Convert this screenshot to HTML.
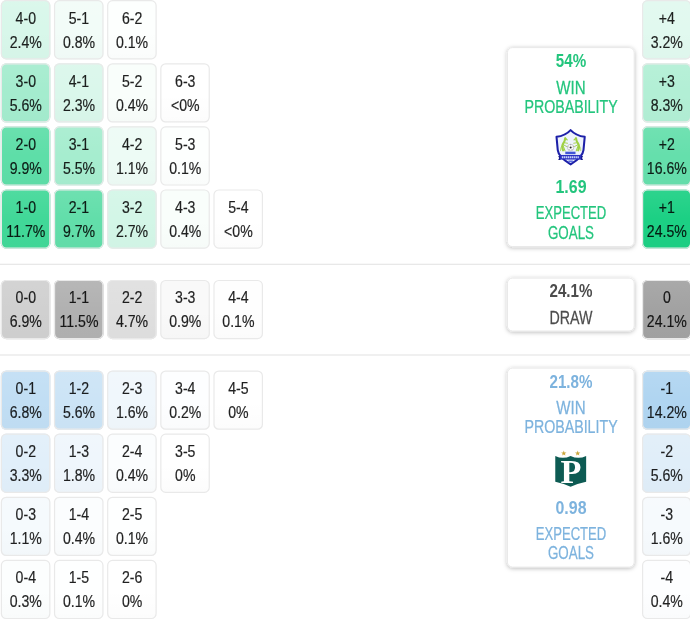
<!DOCTYPE html>
<html lang="en"><head><meta charset="utf-8"><title>Score probabilities</title>
<style>
html,body{margin:0;padding:0;background:#fff}
body{position:relative;width:690px;height:620px;overflow:hidden;font-family:"Liberation Sans",sans-serif;color:#222}
.logo{position:absolute}
.grid{position:absolute;left:0;top:0}
.t{opacity:.87}
.t text{fill:#000;stroke:#000;stroke-width:.22px}
</style></head><body>
<svg class="grid" width="690" height="620" viewBox="0 0 690 620">
<defs><filter id="sh" x="-10%" y="-10%" width="120%" height="125%"><feDropShadow dx="0" dy="1" stdDeviation="2" flood-color="#000" flood-opacity=".27"/></filter><linearGradient id="ov" x1="0" y1="0" x2="0" y2="1"><stop offset="0" stop-color="#fff" stop-opacity=".08"/><stop offset=".5" stop-color="#fff" stop-opacity="0"/><stop offset=".5" stop-color="#000" stop-opacity="0"/><stop offset="1" stop-color="#000" stop-opacity=".012"/></linearGradient></defs>
<rect x="0" y="263.700" width="690" height="1.200" fill="#e6e6e6"/><rect x="0" y="354.400" width="690" height="1.200" fill="#e6e6e6"/>
<g font-family="'Liberation Sans',sans-serif" font-size="17" text-anchor="middle" fill="#1c1c1c">
<rect x="0.8" y="0.1" width="49.6" height="59.3" rx="5.500" fill="rgb(216,247,234)"/><rect x="0.8" y="0.1" width="49.6" height="59.3" rx="5.500" fill="url(#ov)"/><rect x="1.4" y="0.7" width="48.4" height="58.1" rx="4.800" fill="none" stroke="#e9e9e9" stroke-width="1.200"/><g class="t" transform="translate(25.8 0.3) scale(0.83 1)"><text y="23.5">4-0</text><text y="47.5">2.4%</text></g>
<rect x="53.95" y="0.1" width="49.6" height="59.3" rx="5.500" fill="rgb(242,252,248)"/><rect x="53.95" y="0.1" width="49.6" height="59.3" rx="5.500" fill="url(#ov)"/><rect x="54.55" y="0.7" width="48.4" height="58.1" rx="4.800" fill="none" stroke="#e9e9e9" stroke-width="1.200"/><g class="t" transform="translate(78.95 0.3) scale(0.83 1)"><text y="23.5">5-1</text><text y="47.5">0.8%</text></g>
<rect x="107.1" y="0.1" width="49.6" height="59.3" rx="5.500" fill="rgb(253,255,254)"/><rect x="107.1" y="0.1" width="49.6" height="59.3" rx="5.500" fill="url(#ov)"/><rect x="107.7" y="0.7" width="48.4" height="58.1" rx="4.800" fill="none" stroke="#e9e9e9" stroke-width="1.200"/><g class="t" transform="translate(132.1 0.3) scale(0.83 1)"><text y="23.5">6-2</text><text y="47.5">0.1%</text></g>
<rect x="0.8" y="63.2" width="49.6" height="59.3" rx="5.500" fill="rgb(164,236,206)"/><rect x="0.8" y="63.2" width="49.6" height="59.3" rx="5.500" fill="url(#ov)"/><rect x="1.4" y="63.8" width="48.4" height="58.1" rx="4.800" fill="none" stroke="#e9e9e9" stroke-width="1.200"/><g class="t" transform="translate(25.8 63.3) scale(0.83 1)"><text y="23.5">3-0</text><text y="47.5">5.6%</text></g>
<rect x="53.95" y="63.2" width="49.6" height="59.3" rx="5.500" fill="rgb(218,247,235)"/><rect x="53.95" y="63.2" width="49.6" height="59.3" rx="5.500" fill="url(#ov)"/><rect x="54.55" y="63.8" width="48.4" height="58.1" rx="4.800" fill="none" stroke="#e9e9e9" stroke-width="1.200"/><g class="t" transform="translate(78.95 63.3) scale(0.83 1)"><text y="23.5">4-1</text><text y="47.5">2.3%</text></g>
<rect x="107.1" y="63.2" width="49.6" height="59.3" rx="5.500" fill="rgb(249,254,251)"/><rect x="107.1" y="63.2" width="49.6" height="59.3" rx="5.500" fill="url(#ov)"/><rect x="107.7" y="63.8" width="48.4" height="58.1" rx="4.800" fill="none" stroke="#e9e9e9" stroke-width="1.200"/><g class="t" transform="translate(132.1 63.3) scale(0.83 1)"><text y="23.5">5-2</text><text y="47.5">0.4%</text></g>
<rect x="160.25" y="63.2" width="49.6" height="59.3" rx="5.500" fill="rgb(255,255,255)"/><rect x="160.25" y="63.2" width="49.6" height="59.3" rx="5.500" fill="url(#ov)"/><rect x="160.85" y="63.8" width="48.4" height="58.1" rx="4.800" fill="none" stroke="#e9e9e9" stroke-width="1.200"/><g class="t" transform="translate(185.25 63.3) scale(0.83 1)"><text y="23.5">6-3</text><text y="47.5">&lt;0%</text></g>
<rect x="0.8" y="126.3" width="49.6" height="59.3" rx="5.500" fill="rgb(94,222,168)"/><rect x="0.8" y="126.3" width="49.6" height="59.3" rx="5.500" fill="url(#ov)"/><rect x="1.4" y="126.9" width="48.4" height="58.1" rx="4.800" fill="none" stroke="#e9e9e9" stroke-width="1.200"/><g class="t" transform="translate(25.8 126.3) scale(0.83 1)"><text y="23.5">2-0</text><text y="47.5">9.9%</text></g>
<rect x="53.95" y="126.3" width="49.6" height="59.3" rx="5.500" fill="rgb(166,237,207)"/><rect x="53.95" y="126.3" width="49.6" height="59.3" rx="5.500" fill="url(#ov)"/><rect x="54.55" y="126.9" width="48.4" height="58.1" rx="4.800" fill="none" stroke="#e9e9e9" stroke-width="1.200"/><g class="t" transform="translate(78.95 126.3) scale(0.83 1)"><text y="23.5">3-1</text><text y="47.5">5.5%</text></g>
<rect x="107.1" y="126.3" width="49.6" height="59.3" rx="5.500" fill="rgb(237,251,245)"/><rect x="107.1" y="126.3" width="49.6" height="59.3" rx="5.500" fill="url(#ov)"/><rect x="107.7" y="126.9" width="48.4" height="58.1" rx="4.800" fill="none" stroke="#e9e9e9" stroke-width="1.200"/><g class="t" transform="translate(132.1 126.3) scale(0.83 1)"><text y="23.5">4-2</text><text y="47.5">1.1%</text></g>
<rect x="160.25" y="126.3" width="49.6" height="59.3" rx="5.500" fill="rgb(253,255,254)"/><rect x="160.25" y="126.3" width="49.6" height="59.3" rx="5.500" fill="url(#ov)"/><rect x="160.85" y="126.9" width="48.4" height="58.1" rx="4.800" fill="none" stroke="#e9e9e9" stroke-width="1.200"/><g class="t" transform="translate(185.25 126.3) scale(0.83 1)"><text y="23.5">5-3</text><text y="47.5">0.1%</text></g>
<rect x="0.8" y="189.4" width="49.6" height="59.3" rx="5.500" fill="rgb(65,216,152)"/><rect x="0.8" y="189.4" width="49.6" height="59.3" rx="5.500" fill="url(#ov)"/><rect x="1.4" y="190" width="48.4" height="58.1" rx="4.800" fill="none" stroke="#e9e9e9" stroke-width="1.200"/><g class="t" transform="translate(25.8 189.6) scale(0.83 1)"><text y="23.5">1-0</text><text y="47.5">11.7%</text></g>
<rect x="53.95" y="189.4" width="49.6" height="59.3" rx="5.500" fill="rgb(98,222,170)"/><rect x="53.95" y="189.4" width="49.6" height="59.3" rx="5.500" fill="url(#ov)"/><rect x="54.55" y="190" width="48.4" height="58.1" rx="4.800" fill="none" stroke="#e9e9e9" stroke-width="1.200"/><g class="t" transform="translate(78.95 189.6) scale(0.83 1)"><text y="23.5">2-1</text><text y="47.5">9.7%</text></g>
<rect x="107.1" y="189.4" width="49.6" height="59.3" rx="5.500" fill="rgb(211,246,231)"/><rect x="107.1" y="189.4" width="49.6" height="59.3" rx="5.500" fill="url(#ov)"/><rect x="107.7" y="190" width="48.4" height="58.1" rx="4.800" fill="none" stroke="#e9e9e9" stroke-width="1.200"/><g class="t" transform="translate(132.1 189.6) scale(0.83 1)"><text y="23.5">3-2</text><text y="47.5">2.7%</text></g>
<rect x="160.25" y="189.4" width="49.6" height="59.3" rx="5.500" fill="rgb(249,254,251)"/><rect x="160.25" y="189.4" width="49.6" height="59.3" rx="5.500" fill="url(#ov)"/><rect x="160.85" y="190" width="48.4" height="58.1" rx="4.800" fill="none" stroke="#e9e9e9" stroke-width="1.200"/><g class="t" transform="translate(185.25 189.6) scale(0.83 1)"><text y="23.5">4-3</text><text y="47.5">0.4%</text></g>
<rect x="213.4" y="189.4" width="49.6" height="59.3" rx="5.500" fill="rgb(255,255,255)"/><rect x="213.4" y="189.4" width="49.6" height="59.3" rx="5.500" fill="url(#ov)"/><rect x="214" y="190" width="48.4" height="58.1" rx="4.800" fill="none" stroke="#e9e9e9" stroke-width="1.200"/><g class="t" transform="translate(238.4 189.6) scale(0.83 1)"><text y="23.5">5-4</text><text y="47.5">&lt;0%</text></g>
<rect x="0.8" y="279.9" width="49.6" height="59.3" rx="5.500" fill="rgb(208,208,208)"/><rect x="0.8" y="279.9" width="49.6" height="59.3" rx="5.500" fill="url(#ov)"/><rect x="1.4" y="280.5" width="48.4" height="58.1" rx="4.800" fill="none" stroke="#e9e9e9" stroke-width="1.200"/><g class="t" transform="translate(25.8 280) scale(0.83 1)"><text y="23.5">0-0</text><text y="47.5">6.9%</text></g>
<rect x="53.95" y="279.9" width="49.6" height="59.3" rx="5.500" fill="rgb(177,177,177)"/><rect x="53.95" y="279.9" width="49.6" height="59.3" rx="5.500" fill="url(#ov)"/><rect x="54.55" y="280.5" width="48.4" height="58.1" rx="4.800" fill="none" stroke="#e9e9e9" stroke-width="1.200"/><g class="t" transform="translate(78.95 280) scale(0.83 1)"><text y="23.5">1-1</text><text y="47.5">11.5%</text></g>
<rect x="107.1" y="279.9" width="49.6" height="59.3" rx="5.500" fill="rgb(223,223,223)"/><rect x="107.1" y="279.9" width="49.6" height="59.3" rx="5.500" fill="url(#ov)"/><rect x="107.7" y="280.5" width="48.4" height="58.1" rx="4.800" fill="none" stroke="#e9e9e9" stroke-width="1.200"/><g class="t" transform="translate(132.1 280) scale(0.83 1)"><text y="23.5">2-2</text><text y="47.5">4.7%</text></g>
<rect x="160.25" y="279.9" width="49.6" height="59.3" rx="5.500" fill="rgb(249,249,249)"/><rect x="160.25" y="279.9" width="49.6" height="59.3" rx="5.500" fill="url(#ov)"/><rect x="160.85" y="280.5" width="48.4" height="58.1" rx="4.800" fill="none" stroke="#e9e9e9" stroke-width="1.200"/><g class="t" transform="translate(185.25 280) scale(0.83 1)"><text y="23.5">3-3</text><text y="47.5">0.9%</text></g>
<rect x="213.4" y="279.9" width="49.6" height="59.3" rx="5.500" fill="rgb(254,254,254)"/><rect x="213.4" y="279.9" width="49.6" height="59.3" rx="5.500" fill="url(#ov)"/><rect x="214" y="280.5" width="48.4" height="58.1" rx="4.800" fill="none" stroke="#e9e9e9" stroke-width="1.200"/><g class="t" transform="translate(238.4 280) scale(0.83 1)"><text y="23.5">4-4</text><text y="47.5">0.1%</text></g>
<rect x="0.8" y="370.5" width="49.6" height="59.3" rx="5.500" fill="rgb(193,222,244)"/><rect x="0.8" y="370.5" width="49.6" height="59.3" rx="5.500" fill="url(#ov)"/><rect x="1.4" y="371.1" width="48.4" height="58.1" rx="4.800" fill="none" stroke="#e9e9e9" stroke-width="1.200"/><g class="t" transform="translate(25.8 370.8) scale(0.83 1)"><text y="23.5">0-1</text><text y="47.5">6.8%</text></g>
<rect x="53.95" y="370.5" width="49.6" height="59.3" rx="5.500" fill="rgb(204,228,246)"/><rect x="53.95" y="370.5" width="49.6" height="59.3" rx="5.500" fill="url(#ov)"/><rect x="54.55" y="371.1" width="48.4" height="58.1" rx="4.800" fill="none" stroke="#e9e9e9" stroke-width="1.200"/><g class="t" transform="translate(78.95 370.8) scale(0.83 1)"><text y="23.5">1-2</text><text y="47.5">5.6%</text></g>
<rect x="107.1" y="370.5" width="49.6" height="59.3" rx="5.500" fill="rgb(240,247,252)"/><rect x="107.1" y="370.5" width="49.6" height="59.3" rx="5.500" fill="url(#ov)"/><rect x="107.7" y="371.1" width="48.4" height="58.1" rx="4.800" fill="none" stroke="#e9e9e9" stroke-width="1.200"/><g class="t" transform="translate(132.1 370.8) scale(0.83 1)"><text y="23.5">2-3</text><text y="47.5">1.6%</text></g>
<rect x="160.25" y="370.5" width="49.6" height="59.3" rx="5.500" fill="rgb(253,254,255)"/><rect x="160.25" y="370.5" width="49.6" height="59.3" rx="5.500" fill="url(#ov)"/><rect x="160.85" y="371.1" width="48.4" height="58.1" rx="4.800" fill="none" stroke="#e9e9e9" stroke-width="1.200"/><g class="t" transform="translate(185.25 370.8) scale(0.83 1)"><text y="23.5">3-4</text><text y="47.5">0.2%</text></g>
<rect x="213.4" y="370.5" width="49.6" height="59.3" rx="5.500" fill="rgb(255,255,255)"/><rect x="213.4" y="370.5" width="49.6" height="59.3" rx="5.500" fill="url(#ov)"/><rect x="214" y="371.1" width="48.4" height="58.1" rx="4.800" fill="none" stroke="#e9e9e9" stroke-width="1.200"/><g class="t" transform="translate(238.4 370.8) scale(0.83 1)"><text y="23.5">4-5</text><text y="47.5">0%</text></g>
<rect x="0.8" y="433.6" width="49.6" height="59.3" rx="5.500" fill="rgb(225,239,250)"/><rect x="0.8" y="433.6" width="49.6" height="59.3" rx="5.500" fill="url(#ov)"/><rect x="1.4" y="434.2" width="48.4" height="58.1" rx="4.800" fill="none" stroke="#e9e9e9" stroke-width="1.200"/><g class="t" transform="translate(25.8 433.8) scale(0.83 1)"><text y="23.5">0-2</text><text y="47.5">3.3%</text></g>
<rect x="53.95" y="433.6" width="49.6" height="59.3" rx="5.500" fill="rgb(239,246,252)"/><rect x="53.95" y="433.6" width="49.6" height="59.3" rx="5.500" fill="url(#ov)"/><rect x="54.55" y="434.2" width="48.4" height="58.1" rx="4.800" fill="none" stroke="#e9e9e9" stroke-width="1.200"/><g class="t" transform="translate(78.95 433.8) scale(0.83 1)"><text y="23.5">1-3</text><text y="47.5">1.8%</text></g>
<rect x="107.1" y="433.6" width="49.6" height="59.3" rx="5.500" fill="rgb(251,253,254)"/><rect x="107.1" y="433.6" width="49.6" height="59.3" rx="5.500" fill="url(#ov)"/><rect x="107.7" y="434.2" width="48.4" height="58.1" rx="4.800" fill="none" stroke="#e9e9e9" stroke-width="1.200"/><g class="t" transform="translate(132.1 433.8) scale(0.83 1)"><text y="23.5">2-4</text><text y="47.5">0.4%</text></g>
<rect x="160.25" y="433.6" width="49.6" height="59.3" rx="5.500" fill="rgb(255,255,255)"/><rect x="160.25" y="433.6" width="49.6" height="59.3" rx="5.500" fill="url(#ov)"/><rect x="160.85" y="434.2" width="48.4" height="58.1" rx="4.800" fill="none" stroke="#e9e9e9" stroke-width="1.200"/><g class="t" transform="translate(185.25 433.8) scale(0.83 1)"><text y="23.5">3-5</text><text y="47.5">0%</text></g>
<rect x="0.8" y="496.7" width="49.6" height="59.3" rx="5.500" fill="rgb(245,250,253)"/><rect x="0.8" y="496.7" width="49.6" height="59.3" rx="5.500" fill="url(#ov)"/><rect x="1.4" y="497.3" width="48.4" height="58.1" rx="4.800" fill="none" stroke="#e9e9e9" stroke-width="1.200"/><g class="t" transform="translate(25.8 496.8) scale(0.83 1)"><text y="23.5">0-3</text><text y="47.5">1.1%</text></g>
<rect x="53.95" y="496.7" width="49.6" height="59.3" rx="5.500" fill="rgb(251,253,254)"/><rect x="53.95" y="496.7" width="49.6" height="59.3" rx="5.500" fill="url(#ov)"/><rect x="54.55" y="497.3" width="48.4" height="58.1" rx="4.800" fill="none" stroke="#e9e9e9" stroke-width="1.200"/><g class="t" transform="translate(78.95 496.8) scale(0.83 1)"><text y="23.5">1-4</text><text y="47.5">0.4%</text></g>
<rect x="107.1" y="496.7" width="49.6" height="59.3" rx="5.500" fill="rgb(254,255,255)"/><rect x="107.1" y="496.7" width="49.6" height="59.3" rx="5.500" fill="url(#ov)"/><rect x="107.7" y="497.3" width="48.4" height="58.1" rx="4.800" fill="none" stroke="#e9e9e9" stroke-width="1.200"/><g class="t" transform="translate(132.1 496.8) scale(0.83 1)"><text y="23.5">2-5</text><text y="47.5">0.1%</text></g>
<rect x="0.8" y="559.8" width="49.6" height="59.3" rx="5.500" fill="rgb(252,254,254)"/><rect x="0.8" y="559.8" width="49.6" height="59.3" rx="5.500" fill="url(#ov)"/><rect x="1.4" y="560.4" width="48.4" height="58.1" rx="4.800" fill="none" stroke="#e9e9e9" stroke-width="1.200"/><g class="t" transform="translate(25.8 559.8) scale(0.83 1)"><text y="23.5">0-4</text><text y="47.5">0.3%</text></g>
<rect x="53.95" y="559.8" width="49.6" height="59.3" rx="5.500" fill="rgb(254,255,255)"/><rect x="53.95" y="559.8" width="49.6" height="59.3" rx="5.500" fill="url(#ov)"/><rect x="54.55" y="560.4" width="48.4" height="58.1" rx="4.800" fill="none" stroke="#e9e9e9" stroke-width="1.200"/><g class="t" transform="translate(78.95 559.8) scale(0.83 1)"><text y="23.5">1-5</text><text y="47.5">0.1%</text></g>
<rect x="107.1" y="559.8" width="49.6" height="59.3" rx="5.500" fill="rgb(255,255,255)"/><rect x="107.1" y="559.8" width="49.6" height="59.3" rx="5.500" fill="url(#ov)"/><rect x="107.7" y="560.4" width="48.4" height="58.1" rx="4.800" fill="none" stroke="#e9e9e9" stroke-width="1.200"/><g class="t" transform="translate(132.1 559.8) scale(0.83 1)"><text y="23.5">2-6</text><text y="47.5">0%</text></g>
<rect x="642" y="0.1" width="49.2" height="59.3" rx="5.500" fill="rgb(225,249,239)"/><rect x="642" y="0.1" width="49.2" height="59.3" rx="5.500" fill="url(#ov)"/><rect x="642.6" y="0.7" width="48" height="58.1" rx="4.800" fill="none" stroke="#e9e9e9" stroke-width="1.200"/><g class="t" transform="translate(666.8 0.3) scale(0.83 1)"><text y="23.5">+4</text><text y="47.5">3.2%</text></g>
<rect x="642" y="63.2" width="49.2" height="59.3" rx="5.500" fill="rgb(178,239,213)"/><rect x="642" y="63.2" width="49.2" height="59.3" rx="5.500" fill="url(#ov)"/><rect x="642.6" y="63.8" width="48" height="58.1" rx="4.800" fill="none" stroke="#e9e9e9" stroke-width="1.200"/><g class="t" transform="translate(666.8 63.3) scale(0.83 1)"><text y="23.5">+3</text><text y="47.5">8.3%</text></g>
<rect x="642" y="126.3" width="49.2" height="59.3" rx="5.500" fill="rgb(101,223,172)"/><rect x="642" y="126.3" width="49.2" height="59.3" rx="5.500" fill="url(#ov)"/><rect x="642.6" y="126.9" width="48" height="58.1" rx="4.800" fill="none" stroke="#e9e9e9" stroke-width="1.200"/><g class="t" transform="translate(666.8 126.3) scale(0.83 1)"><text y="23.5">+2</text><text y="47.5">16.6%</text></g>
<rect x="642" y="189.4" width="49.2" height="59.3" rx="5.500" fill="rgb(28,208,132)"/><rect x="642" y="189.4" width="49.2" height="59.3" rx="5.500" fill="url(#ov)"/><rect x="642.6" y="190" width="48" height="58.1" rx="4.800" fill="none" stroke="#e9e9e9" stroke-width="1.200"/><g class="t" transform="translate(666.8 189.6) scale(0.83 1)"><text y="23.5">+1</text><text y="47.5">24.5%</text></g>
<rect x="642" y="279.9" width="49.2" height="59.3" rx="5.500" fill="rgb(162,162,162)"/><rect x="642" y="279.9" width="49.2" height="59.3" rx="5.500" fill="url(#ov)"/><rect x="642.6" y="280.5" width="48" height="58.1" rx="4.800" fill="none" stroke="#e9e9e9" stroke-width="1.200"/><g class="t" transform="translate(666.8 280) scale(0.83 1)"><text y="23.5">0</text><text y="47.5">24.1%</text></g>
<rect x="642" y="370.5" width="49.2" height="59.3" rx="5.500" fill="rgb(176,213,241)"/><rect x="642" y="370.5" width="49.2" height="59.3" rx="5.500" fill="url(#ov)"/><rect x="642.6" y="371.1" width="48" height="58.1" rx="4.800" fill="none" stroke="#e9e9e9" stroke-width="1.200"/><g class="t" transform="translate(666.8 370.8) scale(0.83 1)"><text y="23.5">-1</text><text y="47.5">14.2%</text></g>
<rect x="642" y="433.6" width="49.2" height="59.3" rx="5.500" fill="rgb(224,238,249)"/><rect x="642" y="433.6" width="49.2" height="59.3" rx="5.500" fill="url(#ov)"/><rect x="642.6" y="434.2" width="48" height="58.1" rx="4.800" fill="none" stroke="#e9e9e9" stroke-width="1.200"/><g class="t" transform="translate(666.8 433.8) scale(0.83 1)"><text y="23.5">-2</text><text y="47.5">5.6%</text></g>
<rect x="642" y="496.7" width="49.2" height="59.3" rx="5.500" fill="rgb(246,250,253)"/><rect x="642" y="496.7" width="49.2" height="59.3" rx="5.500" fill="url(#ov)"/><rect x="642.6" y="497.3" width="48" height="58.1" rx="4.800" fill="none" stroke="#e9e9e9" stroke-width="1.200"/><g class="t" transform="translate(666.8 496.8) scale(0.83 1)"><text y="23.5">-3</text><text y="47.5">1.6%</text></g>
<rect x="642" y="559.8" width="49.2" height="59.3" rx="5.500" fill="rgb(253,254,255)"/><rect x="642" y="559.8" width="49.2" height="59.3" rx="5.500" fill="url(#ov)"/><rect x="642.6" y="560.4" width="48" height="58.1" rx="4.800" fill="none" stroke="#e9e9e9" stroke-width="1.200"/><g class="t" transform="translate(666.8 559.8) scale(0.83 1)"><text y="23.5">-4</text><text y="47.5">0.4%</text></g>
</g>
<g font-family="'Liberation Sans',sans-serif" font-size="18.6" text-anchor="middle">
<rect x="507.400" y="47.6" width="126.800" height="199" rx="5" fill="#fff" stroke="#e8e8e8" stroke-width="1" filter="url(#sh)"/>
<text transform="translate(571 67.2) scale(0.8172 1)" fill="#23c57d" stroke="#23c57d" stroke-width="0" font-weight="bold">54%</text>
<text transform="translate(571 93.6) scale(0.8127 1)" fill="#23c57d" stroke="#23c57d" stroke-width=".25">WIN</text>
<text transform="translate(571 112.9) scale(0.7647 1)" fill="#23c57d" stroke="#23c57d" stroke-width=".25">PROBABILITY</text>
<text transform="translate(571 193.3) scale(0.8569 1)" fill="#23c57d" stroke="#23c57d" stroke-width="0" font-weight="bold">1.69</text>
<text transform="translate(571 219.2) scale(0.7042 1)" fill="#23c57d" stroke="#23c57d" stroke-width=".25">EXPECTED</text>
<text transform="translate(571 238.5) scale(0.7194 1)" fill="#23c57d" stroke="#23c57d" stroke-width=".25">GOALS</text>
<rect x="507.400" y="278.1" width="126.800" height="52.9" rx="5" fill="#fff" stroke="#e8e8e8" stroke-width="1" filter="url(#sh)"/>
<text transform="translate(571 297.2) scale(0.8155 1)" fill="#4d4d4d" stroke="#4d4d4d" stroke-width="0" font-weight="bold">24.1%</text>
<text transform="translate(571 323.5) scale(0.7655 1)" fill="#4d4d4d" stroke="#4d4d4d" stroke-width=".25">DRAW</text>
<rect x="507.400" y="368.1" width="126.800" height="199" rx="5" fill="#fff" stroke="#e8e8e8" stroke-width="1" filter="url(#sh)"/>
<text transform="translate(571 387.7) scale(0.8155 1)" fill="#7db3de" stroke="#7db3de" stroke-width="0" font-weight="bold">21.8%</text>
<text transform="translate(571 414.1) scale(0.8127 1)" fill="#7db3de" stroke="#7db3de" stroke-width=".25">WIN</text>
<text transform="translate(571 433.4) scale(0.7647 1)" fill="#7db3de" stroke="#7db3de" stroke-width=".25">PROBABILITY</text>
<text transform="translate(571 513.8) scale(0.8569 1)" fill="#7db3de" stroke="#7db3de" stroke-width="0" font-weight="bold">0.98</text>
<text transform="translate(571 539.7) scale(0.7042 1)" fill="#7db3de" stroke="#7db3de" stroke-width=".25">EXPECTED</text>
<text transform="translate(571 559) scale(0.7194 1)" fill="#7db3de" stroke="#7db3de" stroke-width=".25">GOALS</text>
</g></svg>
<svg class="logo" style="left:540px;top:120px" width="60" height="55" viewBox="0 0 676 620">
<path d="M345 114 Q285 178 186 190 L200 340 C206 400 270 455 345 500 C420 455 484 400 490 340 L504 190 Q405 178 345 114 Z" fill="#eef3fc" stroke="#1d20a8" stroke-width="23" stroke-linejoin="round"/>
<g fill="none" stroke="#9fd044" stroke-linecap="round" stroke-linejoin="round">
<path d="M260 342 Q240 300 262 264 Q282 236 284 206" stroke-width="24"/>
<path d="M284 204 L306 224" stroke-width="15"/>
<path d="M274 256 L310 262 M268 282 L300 298" stroke-width="10"/>
<path d="M264 300 L282 348" stroke-width="12"/>
<path d="M243 296 Q226 320 230 346" stroke-width="8"/>
<path d="M430 342 Q450 300 428 264 Q408 236 406 206" stroke-width="24"/>
<path d="M406 204 L384 224" stroke-width="15"/>
<path d="M416 256 L380 262 M422 282 L390 298" stroke-width="10"/>
<path d="M426 300 L408 348" stroke-width="12"/>
<path d="M447 296 Q464 320 460 346" stroke-width="8"/>
</g>
<circle cx="345" cy="310" r="36" fill="#fff" stroke="#8a8a8a" stroke-width="5"/>
<circle cx="345" cy="310" r="12" fill="#2a2a2a"/>
<path d="M345 274 v12 M311 300 l12 5 M379 300 l-12 5 M324 340 l8 -10 M366 340 l-8 -10" stroke="#666" stroke-width="6"/>
<rect x="285" y="357" width="115" height="28" fill="#3f55d6"/>
<path d="M205 405 L232 405 L232 452 L205 452 L216 428 Z M485 405 L458 405 L458 452 L485 452 L474 428 Z" fill="#17188c"/>
<rect x="226" y="394" width="238" height="52" fill="#2a30c2"/>
<path d="M246 420 H444" stroke="#c9d3f7" stroke-width="20" stroke-dasharray="16 6"/>
<rect x="318" y="456" width="54" height="20" rx="6" fill="#5a6be0"/>
</svg>
<svg class="logo" style="left:540px;top:440px" width="60" height="55" viewBox="0 0 676 620">
<path d="M172 180 Q258 222 345 180 Q432 222 520 180 V470 Q420 490 345 528 Q270 490 172 470 Z" fill="#0d5b53"/>
<text x="350" y="481" text-anchor="middle" font-family="'Liberation Serif',serif" font-weight="bold" font-size="386" fill="#fff">P</text>
<polygon points="268.0,118.0 275.6,139.5 298.4,140.1 280.4,154.0 286.8,175.9 268.0,163.0 249.2,175.9 255.6,154.0 237.6,140.1 260.4,139.5" fill="#c9a63a"/>
<polygon points="425.0,118.0 432.6,139.5 455.4,140.1 437.4,154.0 443.8,175.9 425.0,163.0 406.2,175.9 412.6,154.0 394.6,140.1 417.4,139.5" fill="#c9a63a"/>
</svg>
</body></html>
